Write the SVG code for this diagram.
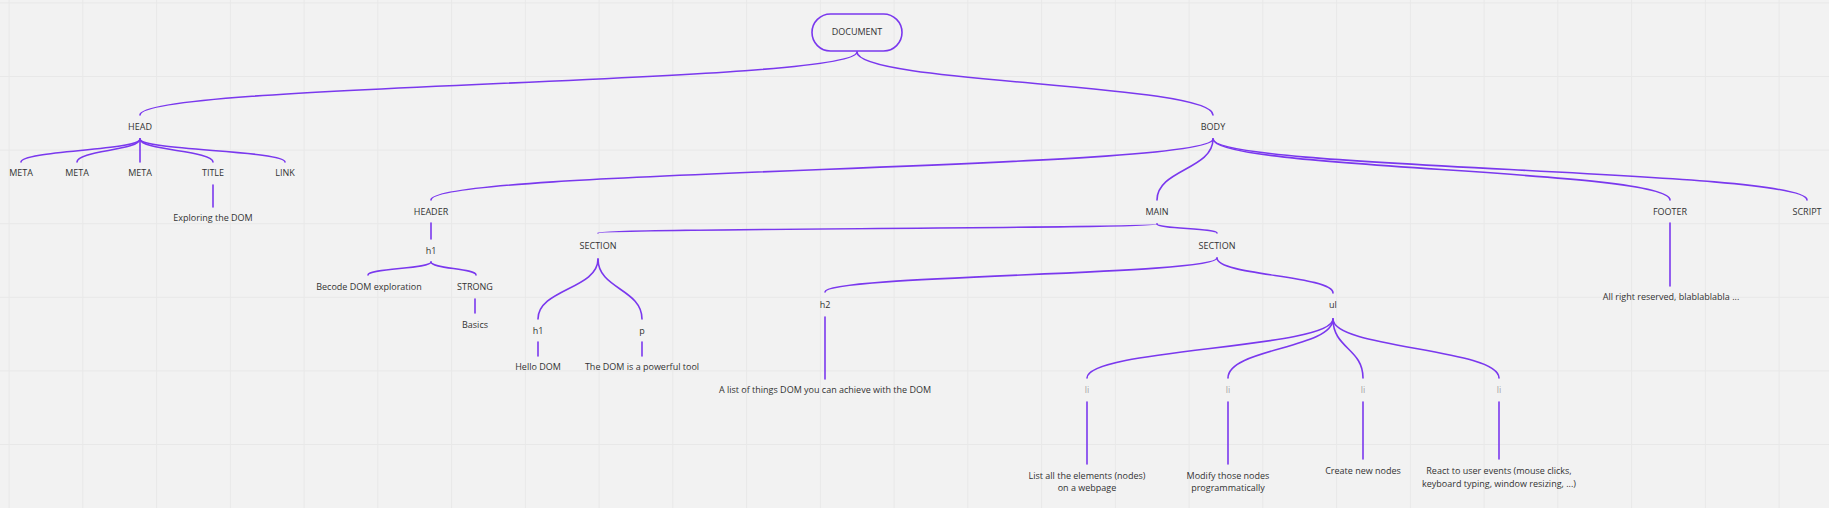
<svg xmlns="http://www.w3.org/2000/svg" width="1829" height="508" viewBox="0 0 1829 508">
<style>
text{font-family:"Open Sans","Noto Sans","Liberation Sans",sans-serif;font-size:9px;fill:#333;text-anchor:middle}
text.li{fill:#a6a6a6}
.c path,.c line{fill:none;stroke:#7a38ee;stroke-width:1.6;stroke-linecap:round}
.box{fill:none;stroke:#7a38ee;stroke-width:1.6}
</style>
<defs>
<pattern id="grid" width="73.75" height="73.6" patternUnits="userSpaceOnUse" x="8.6" y="2.4">
<path d="M0 0.5H73.75M0.5 0V73.6" stroke="#e8e8e8" stroke-width="1" fill="none"/>
</pattern>
</defs>
<rect width="1829" height="508" fill="#f2f2f2"/>
<rect width="1829" height="508" fill="url(#grid)"/>
<g id="connectors" class="c">
<path d="M857 52C857 83.5 140 83.5 140 115"/>
<path d="M857 52C857 83.5 1213 83.5 1213 115"/>
<path d="M140 139C140 150.5 21 150.5 21 162"/>
<path d="M140 139C140 150.5 77 150.5 77 162"/>
<line x1="140" y1="139" x2="140" y2="162"/>
<path d="M140 139C140 150.5 213 150.5 213 162"/>
<path d="M140 139C140 150.5 285 150.5 285 162"/>
<line x1="213" y1="185" x2="213" y2="207"/>
<path d="M1213 139C1213 169.5 431 169.5 431 200"/>
<path d="M1213 139C1213 169.5 1157 169.5 1157 200"/>
<path d="M1213 139C1213 169.5 1670 169.5 1670 200"/>
<path d="M1213 139C1213 169.5 1807 169.5 1807 200"/>
<line x1="431" y1="223" x2="431" y2="239"/>
<path d="M431 262C431 268.5 368 268.5 368 275"/>
<path d="M431 262C431 268.5 476 268.5 476 275"/>
<line x1="475" y1="299" x2="475" y2="313"/>
<path d="M1157 224C1157 228.5 598 228.5 598 233"/>
<path d="M1157 224C1157 228.5 1217 228.5 1217 233"/>
<path d="M598 259C598 289 538 289 538 319"/>
<path d="M598 259C598 289 642 289 642 319"/>
<line x1="538" y1="342" x2="538" y2="356"/>
<line x1="642" y1="342" x2="642" y2="356"/>
<path d="M1217 258C1217 275 825 275 825 292"/>
<path d="M1217 258C1217 275.5 1333 275.5 1333 293"/>
<line x1="825" y1="317" x2="825" y2="379"/>
<path d="M1333 319C1333 348.5 1087 348.5 1087 378"/>
<path d="M1333 319C1333 348.5 1228 348.5 1228 378"/>
<path d="M1333 319C1333 348.5 1363 348.5 1363 378"/>
<path d="M1333 319C1333 348.5 1499 348.5 1499 378"/>
<line x1="1087" y1="402" x2="1087" y2="464"/>
<line x1="1228" y1="402" x2="1228" y2="464"/>
<line x1="1363" y1="402" x2="1363" y2="459"/>
<line x1="1499" y1="402" x2="1499" y2="459"/>
<line x1="1670" y1="223" x2="1670" y2="286"/>
</g>
<g id="document"><rect class="box" x="812" y="14" width="90" height="37" rx="18.5"/><text x="857" y="35.3">DOCUMENT</text></g>
<g id="head"><text x="140" y="130.3">HEAD</text></g>
<g id="body"><text x="1213" y="130.3">BODY</text></g>
<g id="meta1"><text x="21" y="176.3">META</text></g>
<g id="meta2"><text x="77" y="176.3">META</text></g>
<g id="meta3"><text x="140" y="176.3">META</text></g>
<g id="title"><text x="213" y="176.3">TITLE</text></g>
<g id="link"><text x="285" y="176.3">LINK</text></g>
<g id="title-text"><text x="213" y="221.3">Exploring the DOM</text></g>
<g id="header"><text x="431" y="214.8">HEADER</text></g>
<g id="main"><text x="1157" y="214.8">MAIN</text></g>
<g id="footer"><text x="1670" y="214.8">FOOTER</text></g>
<g id="script"><text x="1807" y="214.8">SCRIPT</text></g>
<g id="header-h1"><text x="431" y="254.3">h1</text></g>
<g id="becode"><text x="369" y="290.3">Becode DOM exploration</text></g>
<g id="strong"><text x="475" y="290.3">STRONG</text></g>
<g id="basics"><text x="475" y="328.3">Basics</text></g>
<g id="section1"><text x="598" y="249.3">SECTION</text></g>
<g id="section2"><text x="1217" y="249.3">SECTION</text></g>
<g id="section-h1"><text x="538" y="334.3">h1</text></g>
<g id="section-p"><text x="642" y="334.3">p</text></g>
<g id="hello"><text x="538" y="370.3">Hello DOM</text></g>
<g id="powerful"><text x="642" y="370.3">The DOM is a powerful tool</text></g>
<g id="h2"><text x="825" y="308.3">h2</text></g>
<g id="ul"><text x="1333" y="308.3">ul</text></g>
<g id="h2-text"><text x="825" y="393.3">A list of things DOM you can achieve with the DOM</text></g>
<g id="li1"><text class="li" x="1087" y="393.3">li</text></g>
<g id="li2"><text class="li" x="1228" y="393.3">li</text></g>
<g id="li3"><text class="li" x="1363" y="393.3">li</text></g>
<g id="li4"><text class="li" x="1499" y="393.3">li</text></g>
<g id="li1-text"><text x="1087" y="479.3">List all the elements (nodes)</text><text x="1087" y="491.3">on a webpage</text></g>
<g id="li2-text"><text x="1228" y="479.3">Modify those nodes</text><text x="1228" y="491.3">programmatically</text></g>
<g id="li3-text"><text x="1363" y="474.3">Create new nodes</text></g>
<g id="li4-text"><text x="1499" y="474.3">React to user events (mouse clicks,</text><text x="1499" y="487.3">keyboard typing, window resizing, ...)</text></g>
<g id="footer-text"><text x="1671" y="300.3">All right reserved, blablablabla ...</text></g>
</svg>
